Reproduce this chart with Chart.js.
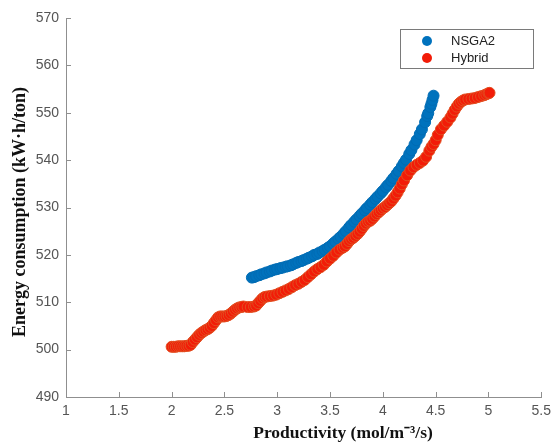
<!DOCTYPE html>
<html>
<head>
<meta charset="utf-8">
<script src="https://cdn.jsdelivr.net/npm/chart.js@4.4.1/dist/chart.umd.min.js"></script>
<style>
html,body{margin:0;padding:0;background:#fff;}
#wrap{width:557px;height:443px;position:relative;}
</style>
</head>
<body>
<div id="wrap"><canvas id="c" width="557" height="443"></canvas></div>
<script>
const xTicks = [1, 1.5, 2, 2.5, 3, 3.5, 4, 4.5, 5, 5.5];
const yTicks = [490, 500, 510, 520, 530, 540, 550, 560, 570];
const seriesNames = ['NSGA2', 'Hybrid'];

const nsga2X = [2.76,2.78,2.80,2.83,2.85,2.88,2.90,2.93,2.95,2.98,3.00,3.03,3.05,3.08,3.10,3.13,3.15,3.18,3.20,3.23,3.25,3.28,3.30,3.33,3.35,3.38,3.40,3.43,3.45,3.48,3.50,3.53,3.55,3.58,3.60,3.63,3.65,3.68,3.70,3.73,3.75,3.78,3.80,3.83,3.85,3.88,3.90,3.93,3.95,3.98,4.00,4.03,4.05,4.08,4.10,4.13,4.15,4.18,4.20,4.22,4.25,4.27,4.30,4.32,4.35,4.37,4.40,4.42,4.43,4.45,4.46,4.47,4.48];
const nsga2Y = [515.2,515.3,515.5,515.7,515.9,516.1,516.3,516.5,516.7,516.9,517.0,517.2,517.3,517.5,517.6,517.8,518.0,518.3,518.5,518.7,518.9,519.2,519.4,519.7,520.0,520.2,520.5,520.8,521.1,521.5,521.8,522.4,522.8,523.4,523.8,524.5,525.0,525.8,526.3,527.0,527.5,528.2,528.7,529.4,529.9,530.6,531.1,531.8,532.3,533.0,533.5,534.3,534.8,535.6,536.2,537.1,537.7,538.7,539.4,540.1,541.3,542.1,543.3,544.2,545.5,546.5,548.0,549.3,549.9,551.2,551.9,552.7,553.6];

const hybridX = [2.00,2.02,2.04,2.06,2.08,2.10,2.12,2.14,2.16,2.18,2.20,2.22,2.24,2.26,2.28,2.30,2.32,2.34,2.36,2.38,2.40,2.42,2.44,2.46,2.48,2.50,2.52,2.54,2.56,2.58,2.60,2.62,2.64,2.66,2.68,2.72,2.75,2.78,2.80,2.82,2.84,2.86,2.88,2.90,2.93,2.96,2.99,3.02,3.05,3.08,3.11,3.14,3.17,3.20,3.23,3.26,3.29,3.32,3.35,3.38,3.41,3.44,3.47,3.50,3.53,3.56,3.59,3.62,3.64,3.66,3.68,3.70,3.72,3.74,3.76,3.78,3.80,3.82,3.84,3.86,3.88,3.90,3.92,3.94,3.96,3.98,4.00,4.02,4.04,4.06,4.08,4.10,4.12,4.14,4.16,4.18,4.20,4.23,4.26,4.29,4.32,4.35,4.38,4.41,4.44,4.46,4.48,4.50,4.52,4.55,4.58,4.61,4.64,4.66,4.68,4.70,4.72,4.74,4.76,4.78,4.81,4.84,4.87,4.90,4.93,4.96,4.98,5.00,5.01];
const hybridY = [500.6,500.6,500.6,500.7,500.7,500.7,500.7,500.8,500.8,501.0,501.6,502.1,502.6,503.1,503.5,503.8,504.1,504.3,504.6,505.0,505.6,506.2,506.8,507.0,507.0,507.0,507.1,507.3,507.6,508.0,508.4,508.7,508.9,509.0,509.1,509.0,509.0,509.1,509.3,509.8,510.3,510.8,511.1,511.2,511.3,511.4,511.6,511.9,512.2,512.5,512.8,513.2,513.6,513.9,514.3,514.7,515.3,515.9,516.5,517.0,517.4,517.9,518.6,519.2,519.8,520.5,521.1,521.5,521.8,522.3,522.9,523.3,523.6,524.0,524.4,524.9,525.5,526.1,526.6,527.0,527.2,527.6,528.1,528.6,529.0,529.4,529.8,530.1,530.5,530.9,531.3,531.9,532.5,533.2,534.0,534.9,535.7,536.8,537.8,538.5,539.0,539.4,539.9,540.7,542.0,542.8,543.4,544.2,545.3,546.5,547.3,548.1,549.0,549.8,550.6,551.3,551.9,552.3,552.6,552.8,552.9,553.0,553.1,553.3,553.5,553.7,553.9,554.1,554.2];

function toPts(xs, ys){ return xs.map((x,i)=>({x:x, y:ys[i]})); }

const AXIS_COLOR = '#8f8f8f';
const TICK_COLOR = '#555555';

const decor = {
  id: 'decor',
  afterDraw(chart){
    const ctx = chart.ctx;
    const xs = chart.scales.x, ys = chart.scales.y;
    const a = chart.chartArea;
    ctx.save();
    ctx.strokeStyle = AXIS_COLOR;
    ctx.lineWidth = 1;
    ctx.beginPath();
    xTicks.forEach(v=>{
      const px = Math.round(xs.getPixelForValue(v)) + 0.5;
      ctx.moveTo(px, a.bottom); ctx.lineTo(px, a.bottom - 5);
    });
    yTicks.forEach(v=>{
      const py = Math.round(ys.getPixelForValue(v)) + 0.5;
      ctx.moveTo(a.left, py); ctx.lineTo(a.left + 5, py);
    });
    ctx.stroke();

    ctx.fillStyle = '#111';
    ctx.font = 'bold 17.5px "Liberation Serif", "Times New Roman", serif';
    ctx.textAlign = 'center';
    ctx.textBaseline = 'middle';
    ctx.fillText('Productivity (mol/m\u207B\u00B3/s)', 343, 433);
    ctx.save();
    ctx.translate(20, 212);
    ctx.rotate(-Math.PI/2);
    ctx.font = 'bold 18px "Liberation Serif", "Times New Roman", serif';
    ctx.fillText('Energy consumption (kW\u00B7h/ton)', 0, 0);
    ctx.restore();

    ctx.fillStyle = '#ffffff';
    ctx.fillRect(400.5, 29.5, 133, 39);
    ctx.strokeStyle = '#7a7a7a';
    ctx.strokeRect(400.5, 29.5, 133, 39);
    const ds = chart.data.datasets;
    [41, 58].forEach((y, i)=>{
      ctx.beginPath();
      ctx.arc(427, y, 5, 0, Math.PI*2);
      ctx.fillStyle = ds[i].backgroundColor;
      ctx.fill();
      ctx.fillStyle = '#222';
      ctx.font = '13px "Liberation Sans", Arial, sans-serif';
      ctx.textAlign = 'left';
      ctx.fillText(seriesNames[i], 451, y);
    });
    ctx.restore();
  }
};

new Chart(document.getElementById('c'), {
  type: 'scatter',
  data: {
    datasets: [
      {
        label: seriesNames[0],
        data: toPts(nsga2X, nsga2Y),
        backgroundColor: 'rgb(0,114,189)',
        borderColor: 'rgb(0,108,180)',
        borderWidth: 1,
        pointRadius: 5.5,
        pointHoverRadius: 5.5,
        order: 1
      },
      {
        label: seriesNames[1],
        data: toPts(hybridX, hybridY),
        backgroundColor: 'rgb(242,28,8)',
        borderColor: 'rgb(226,78,32)',
        borderWidth: 1,
        pointRadius: 5.5,
        pointHoverRadius: 5.5,
        order: 0
      }
    ]
  },
  options: {
    responsive: false,
    animation: false,
    events: [],
    layout: { padding: { top: 18, right: 12, left: 0, bottom: 0 } },
    plugins: { legend: { display: false }, tooltip: { enabled: false } },
    scales: {
      x: {
        type: 'linear', min: 1, max: 5.5,
        afterBuildTicks(s){ s.ticks = xTicks.map(v=>({value:v})); },
        afterFit(s){ s.height = 46; },
        grid: { display: false, drawTicks: false },
        border: { display: true, color: AXIS_COLOR, width: 1 },
        ticks: {
          color: TICK_COLOR, padding: 6, maxRotation: 0, autoSkip: false,
          font: { family: '"Liberation Sans", Arial, sans-serif', size: 14 },
          callback: v => String(v)
        }
      },
      y: {
        type: 'linear', min: 490, max: 570,
        afterBuildTicks(s){ s.ticks = yTicks.map(v=>({value:v})); },
        afterFit(s){ s.width = 66; },
        grid: { display: false, drawTicks: false },
        border: { display: true, color: AXIS_COLOR, width: 1 },
        ticks: {
          color: TICK_COLOR, padding: 7, autoSkip: false,
          font: { family: '"Liberation Sans", Arial, sans-serif', size: 14 },
          callback: v => String(v)
        }
      }
    }
  },
  plugins: [decor]
});
</script>
</body>
</html>
